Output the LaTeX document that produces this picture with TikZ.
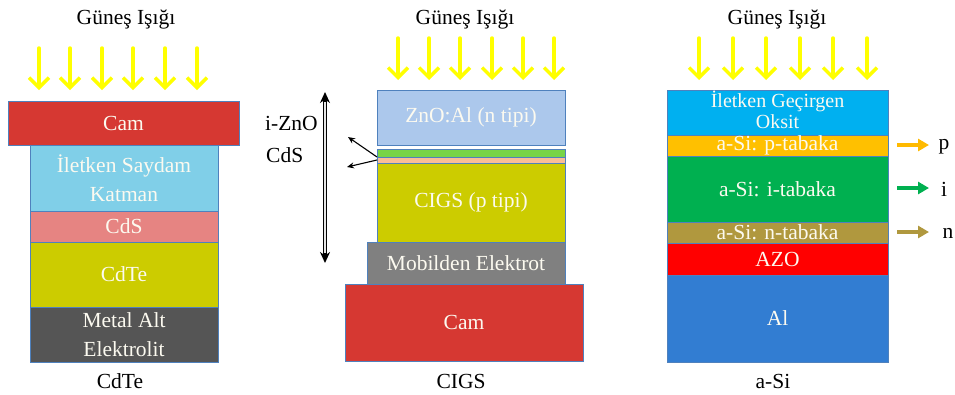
\documentclass[tikz,border=0pt]{standalone}
\usepackage{fontspec}
\setmainfont{Liberation Serif}
\usetikzlibrary{arrows.meta}
\definecolor{bordc}{RGB}{79,129,189}
\definecolor{sunyellow}{RGB}{255,255,0}
\definecolor{camred}{RGB}{214,56,50}
\definecolor{tcocyan}{RGB}{128,207,232}
\definecolor{cdspink}{RGB}{230,132,130}
\definecolor{cdteolive}{RGB}{204,204,0}
\definecolor{metalgray}{RGB}{85,85,85}
\definecolor{znoblue}{RGB}{172,200,236}
\definecolor{iznogreen}{RGB}{120,212,70}
\definecolor{cdspeach}{RGB}{250,190,150}
\definecolor{mobgray}{RGB}{128,128,128}
\definecolor{tcoblue}{RGB}{0,176,240}
\definecolor{porange}{RGB}{255,192,0}
\definecolor{igreen}{RGB}{0,176,80}
\definecolor{nolive}{RGB}{176,152,62}
\definecolor{azored}{RGB}{255,0,0}
\definecolor{alblue}{RGB}{50,125,210}
\definecolor{textwhite}{RGB}{252,250,240}
\begin{document}
\begin{tikzpicture}[x=1pt,y=-1pt,
  layer/.style={draw=bordc, line width=0.8pt, inner sep=0pt, outer sep=0pt,
    text=textwhite, align=center, font=\rmfamily\fontsize{21.5}{29}\selectfont},
  sun/.style={draw=sunyellow, line width=3.5pt, line cap=round,
    -{Straight Barb[length=10pt,width=20pt]}},
  lbl/.style={font=\rmfamily\fontsize{21.5}{29}\selectfont, text=black, inner sep=0pt},
  sidearrow/.style={line width=3.5pt, -{Triangle[length=11pt,width=12pt]}}]
\useasboundingbox (0,0) rectangle (955,394);

% ---------------- Left: CdTe ----------------
\node[lbl] (t1) at (126,19) {Güneş Işığı};
\foreach \x [count=\k] in {39,70,102,133,165,197}{
  \coordinate (a1s\k) at (\x,48);
  \coordinate (a1e\k) at (\x,90);
  \draw[sun] (a1s\k) -- (a1e\k);
}
\node[layer, fill=camred, minimum width=231pt, minimum height=44pt] (cam1) at (123.5,123) {Cam};
\node[layer, fill=tcocyan, minimum width=188pt, minimum height=66pt] (tco1) at (124,178) {İletken Saydam\\Katman};
\node[layer, fill=cdspink, minimum width=188pt, minimum height=31pt] (cds1) at (124,226.5) {CdS};
\node[layer, fill=cdteolive, minimum width=188pt, minimum height=65pt] (cdte1) at (124,274.5) {CdTe};
\node[layer, fill=metalgray, minimum width=188pt, minimum height=55pt] (met1) at (124,334.5) {Metal Alt\\Elektrolit};
\node[lbl] (c1) at (120,381) {CdTe};

% ---------------- Middle: CIGS ----------------
\node[lbl] (t2) at (465,19) {Güneş Işığı};
\foreach \x [count=\k] in {398,429,460,492,523,554}{
  \coordinate (a2s\k) at (\x,38);
  \coordinate (a2e\k) at (\x,80);
  \draw[sun] (a2s\k) -- (a2e\k);
}
\node[layer, fill=znoblue, minimum width=188pt, minimum height=55pt] (zno) at (471,117.5) {ZnO:Al (n tipi)};
\node[layer, fill=iznogreen, minimum width=188pt, minimum height=8pt, line width=0.6pt] (izno) at (471,153) {};
\node[layer, fill=cdspeach, minimum width=188pt, minimum height=6pt, line width=0.6pt] (cdsl) at (471,160) {};
\node[layer, fill=cdteolive, minimum width=188pt, minimum height=79pt] (cigs) at (471,202.5) {CIGS (p tipi)};
\node[layer, fill=mobgray, minimum width=198pt, minimum height=42pt] (mob) at (466,263) {Mobilden Elektrot};
\node[layer, fill=camred, minimum width=238pt, minimum height=77pt] (cam2) at (464,322.5) {Cam};
\node[lbl] (c2) at (461,381) {CIGS};

\node[lbl, anchor=west] (lizno) at (265,123) {i-ZnO};
\node[lbl, anchor=west] (lcds) at (266,155) {CdS};

\coordinate (dtop) at (325,92);
\coordinate (dbot) at (325,263);
\draw[line width=4pt, {Stealth[length=11pt,width=10pt]}-{Stealth[length=11pt,width=10pt]}] (dtop) -- (dbot);
\draw[white!80!gray, line width=1.6pt, shorten <=10pt, shorten >=10pt] (dtop) -- (dbot);

\coordinate (ia) at (348,137);
\coordinate (ca) at (347,167);
\draw[line width=1.1pt, -{Stealth[length=7pt,width=6pt]}] (izno.south west) -- (ia);
\draw[line width=1.1pt, -{Stealth[length=7pt,width=6pt]}] (cdsl.west) -- (ca);

% ---------------- Right: a-Si ----------------
\node[lbl] (t3) at (777,19) {Güneş Işığı};
\foreach \x [count=\k] in {699,733,766,800,833,867}{
  \coordinate (a3s\k) at (\x,38);
  \coordinate (a3e\k) at (\x,80);
  \draw[sun] (a3s\k) -- (a3e\k);
}
\node[layer, fill=tcoblue, minimum width=221pt, minimum height=45pt,
  font=\rmfamily\fontsize{20}{21}\selectfont] (tco3) at (777.5,112.5) {İletken Geçirgen\\Oksit\rule[-6pt]{0pt}{6pt}};
\node[layer, fill=porange, minimum width=221pt, minimum height=21pt] (pl) at (777.5,145.5) {a-Si: p-tabaka};
\node[layer, fill=igreen, minimum width=221pt, minimum height=66pt] (il) at (777.5,189) {a-Si: i-tabaka};
\node[layer, fill=nolive, minimum width=221pt, minimum height=21pt] (nl) at (777.5,232.5) {a-Si: n-tabaka};
\node[layer, fill=azored, minimum width=221pt, minimum height=32pt] (azo) at (777.5,259) {AZO};
\node[layer, fill=alblue, minimum width=221pt, minimum height=87pt] (al) at (777.5,318.5) {Al};
\node[lbl] (c3) at (773,381) {a-Si};

\node[lbl] (pp) at (944,147) {p};
\node[lbl] (pi) at (944,189) {i};
\node[lbl] (pn) at (948,233) {n};
\coordinate (ps) at (897,145);
\coordinate (is) at (897,188);
\coordinate (ns) at (897,232);
\draw[sidearrow, draw=porange!90!orange, fill=porange!90!orange] (ps) -- (ps -| 929,0);
\draw[sidearrow, draw=igreen, fill=igreen] (is) -- (is -| 929,0);
\draw[sidearrow, draw=nolive, fill=nolive] (ns) -- (ns -| 929,0);
\end{tikzpicture}
\end{document}
